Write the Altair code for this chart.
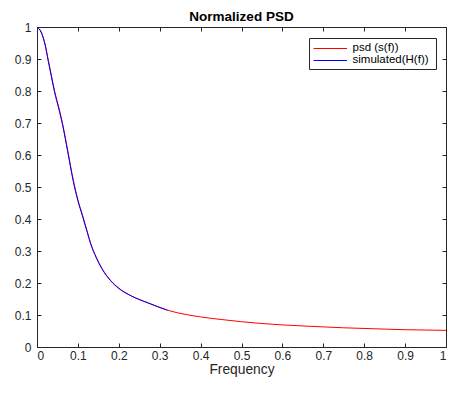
import altair as alt
import pandas as pd

# ---- data ----
freq_psd = [0, 0.01, 0.02, 0.027, 0.035, 0.043, 0.053, 0.063, 0.075, 0.089, 0.1, 0.111,
            0.123, 0.131, 0.145, 0.159, 0.18, 0.2, 0.23, 0.271, 0.319, 0.343, 0.4, 0.45,
            0.5, 0.6, 0.662, 0.75, 0.823, 0.9, 1.0]
psd = [1.0, 0.985, 0.945, 0.9, 0.85, 0.8, 0.75, 0.695, 0.615, 0.52, 0.46, 0.413,
       0.36, 0.325, 0.28, 0.245, 0.208, 0.184, 0.16, 0.138, 0.115, 0.107, 0.094, 0.086,
       0.079, 0.069, 0.065, 0.06, 0.057, 0.054, 0.052]

freq_sim = [0, 0.01, 0.02, 0.027, 0.035, 0.043, 0.053, 0.063, 0.075, 0.089, 0.1, 0.111,
            0.123, 0.131, 0.145, 0.159, 0.18, 0.2, 0.23, 0.271, 0.319]
sim = [1.0, 0.984, 0.943, 0.897, 0.846, 0.796, 0.746, 0.691, 0.611, 0.516, 0.457, 0.41,
       0.358, 0.323, 0.279, 0.244, 0.207, 0.183, 0.16, 0.138, 0.115]

series_names = ["psd (s(f))", "simulated(H(f))"]
series_colors = ["#ff0000", "#0000ff"]
tick_values = [0, 0.1, 0.2, 0.3, 0.4, 0.5, 0.6, 0.7, 0.8, 0.9, 1.0]

W, H = 409, 320
AX = "#262626"
FONT = "Liberation Sans"

df_psd = pd.DataFrame({"f": freq_psd, "v": psd, "series": series_names[0]})
df_sim = pd.DataFrame({"f": freq_sim, "v": sim, "series": series_names[1]})

xs = alt.Scale(domain=[0, 1], nice=False, zero=False)
ys = alt.Scale(domain=[0, 1], nice=False, zero=False)

color = alt.Color("series:N",
                  scale=alt.Scale(domain=series_names, range=series_colors),
                  legend=None)

base_axis = dict(values=tick_values, grid=False, domainColor=AX, tickColor=AX,
                 labelColor=AX, labelFont=FONT, labelFontSize=12, domainWidth=1,
                 tickWidth=1)

# layer 1: red line, labelled bottom / left axes (no outward ticks)
x1 = alt.X("f:Q", scale=xs, axis=alt.Axis(
    orient="bottom", ticks=False, labels=True, domain=True, labelPadding=3,
    format="~g", title="Frequency", titleFont=FONT, titleFontSize=13.8,
    titleFontWeight="normal", titleColor=AX, titlePadding=1, **base_axis))
y1 = alt.Y("v:Q", scale=ys, axis=alt.Axis(
    orient="left", ticks=False, labels=True, domain=True, labelPadding=6,
    format="~g", title=None, **base_axis))
red = alt.Chart(df_psd).mark_line(strokeWidth=1, clip=True, interpolate="monotone").encode(
    x=x1, y=y1, color=color)

# layer 2: blue line, inward ticks on bottom and left edges
x2 = alt.X("f:Q", scale=xs, axis=alt.Axis(
    orient="top", offset=-H, ticks=True, tickSize=4, labels=False, domain=False,
    title=None, **base_axis))
y2 = alt.Y("v:Q", scale=ys, axis=alt.Axis(
    orient="right", offset=-W, ticks=True, tickSize=4, labels=False, domain=False,
    title=None, **base_axis))
blue = alt.Chart(df_sim).mark_line(strokeWidth=1, clip=True, interpolate="monotone").encode(
    x=x2, y=y2, color=color)

# layer 3: invisible, top / right box edges with inward ticks
x3 = alt.X("f:Q", scale=xs, axis=alt.Axis(
    orient="bottom", offset=-H, ticks=True, tickSize=4, labels=False, domain=True,
    title=None, **base_axis))
y3 = alt.Y("v:Q", scale=ys, axis=alt.Axis(
    orient="left", offset=-W, ticks=True, tickSize=4, labels=False, domain=True,
    title=None, **base_axis))
frame = alt.Chart(df_psd).mark_line(opacity=0).encode(x=x3, y=y3)

# legend (MATLAB-style box in the upper right)
LX1 = W - 10
LX0 = LX1 - 127
LY0, LY1 = 11, 42
row_y = [21, 33]
legend_box = alt.Chart(pd.DataFrame({"k": [0]})).mark_rect(
    fill="white", stroke=AX, strokeWidth=1).encode(
    x=alt.value(LX0 + 0.5), x2=alt.value(LX1 + 0.5),
    y=alt.value(LY0 + 0.5), y2=alt.value(LY1 + 0.5))

legend_layers = []
for name, col, yy in zip(series_names, series_colors, row_y):
    d = pd.DataFrame({"name": [name]})
    legend_layers.append(
        alt.Chart(d).mark_rule(strokeWidth=1, color=col).encode(
            x=alt.value(LX0 + 4.5), x2=alt.value(LX0 + 38), y=alt.value(yy + 0.5)))
    legend_layers.append(
        alt.Chart(d).mark_text(align="left", baseline="middle", font=FONT,
                               fontSize=11.5, color="#000000").encode(
            text="name:N", x=alt.value(LX0 + 43.5), y=alt.value(yy)))

chart = (
    alt.layer(red, blue, frame, legend_box, *legend_layers)
    .resolve_axis(x="independent", y="independent")
    .properties(
        width=W, height=H,
        title=alt.TitleParams("Normalized PSD", font=FONT, fontSize=13.5,
                              fontWeight="bold", color="#000000", anchor="middle",
                              offset=-2, frame="group"),
        autosize=alt.AutoSizeParams(type="none"),
        padding={"left": 29, "top": 19, "right": 1, "bottom": 31},
    )
    .configure_view(stroke=None)
    .configure(background="white")
)

chart.save("out.html", embed_options={"renderer": "svg", "actions": False})
